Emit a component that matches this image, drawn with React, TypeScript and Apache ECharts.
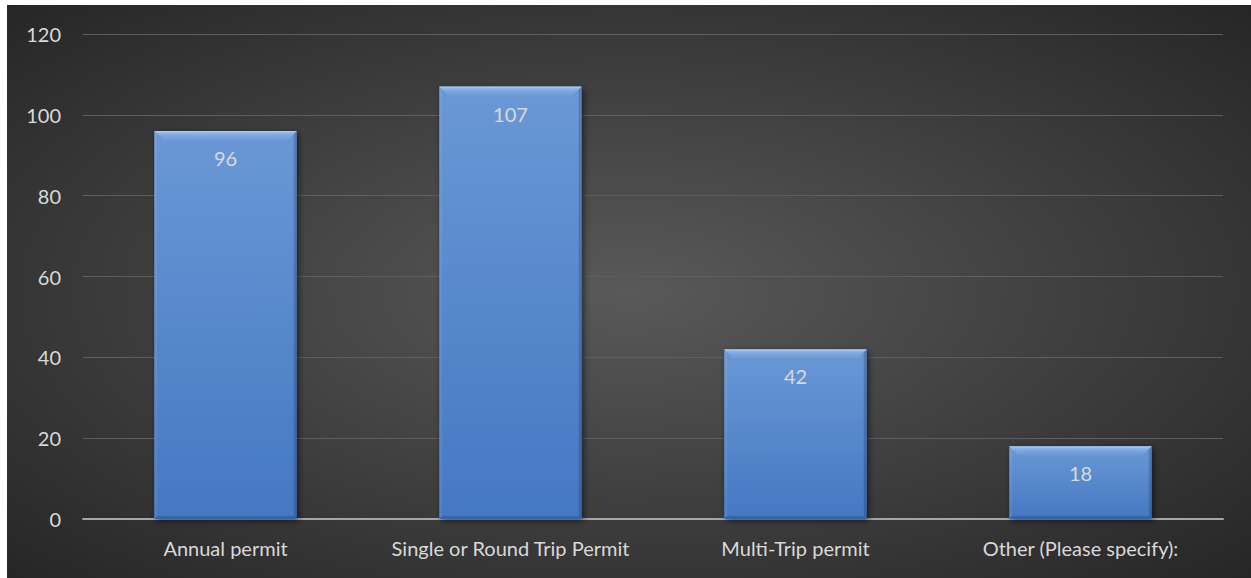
import React, { useEffect, useRef } from "react";
import * as echarts from "echarts";

const categories = ["Annual permit", "Single or Round Trip Permit", "Multi-Trip permit", "Other (Please specify):"];
const values = [96, 107, 42, 18];
const yTicks = [0, 20, 40, 60, 80, 100, 120];

const FONT = "Lato, 'Open Sans', sans-serif";

export default function App() {
  const ref = useRef<HTMLDivElement>(null);
  useEffect(() => {
    if (!ref.current) return;
    const chart = echarts.init(ref.current, undefined, { renderer: "svg" });
    chart.setOption({
      animation: false,
      backgroundColor: {
        type: "radial",
        x: 0.5,
        y: 0.5,
        r: 0.72,
        colorStops: [
          { offset: 0, color: "#595959" },
          { offset: 1, color: "#252525" },
        ],
      },
      grid: { left: 76, right: 28, top: 29, bottom: 59 },
      xAxis: {
        type: "category",
        data: categories,
        axisTick: { show: false },
        axisLine: { lineStyle: { color: "#a6a6a6", width: 2 } },
        axisLabel: { color: "#d9d9d9", fontSize: 20, fontFamily: FONT, margin: 19, interval: 0 },
      },
      yAxis: {
        type: "value",
        min: yTicks[0],
        max: yTicks[yTicks.length - 1],
        interval: 20,
        axisLine: { show: false },
        axisTick: { show: false },
        splitLine: { lineStyle: { color: "#5e5e5e", width: 1 } },
        axisLabel: { color: "#d9d9d9", fontSize: 20, fontFamily: FONT, margin: 22 },
      },
      series: [
        {
          type: "bar",
          data: values,
          barWidth: "50%",
          z: 2,
          itemStyle: {
            color: {
              type: "linear",
              x: 0, y: 0, x2: 0, y2: 1,
              colorStops: [
                { offset: 0, color: "#6a98d6" },
                { offset: 1, color: "#4478c2" },
              ],
            },
            shadowColor: "rgba(0,0,0,0.55)",
            shadowBlur: 6,
            shadowOffsetX: 2,
            shadowOffsetY: 2,
          },
          label: {
            show: true,
            position: "insideTop",
            distance: 17,
            color: "#d9d9d9",
            fontSize: 20,
            fontFamily: FONT,
          },
        },
        {
          type: "custom",
          data: values.map((v, i) => [i, v]),
          encode: { x: 0, y: 1 },
          z: 3,
          silent: true,
          renderItem: (params: any, api: any) => {
            const idx = api.value(0);
            const v = api.value(1);
            const top = api.coord([idx, v]);
            const base = api.coord([idx, 0]);
            const w = api.size([1, 0])[0] * 0.5;
            const x0 = top[0] - w / 2;
            const x1 = top[0] + w / 2;
            const y0 = top[1];
            const y1 = base[1];
            const b = 9;
            const s = 3;
            return {
              type: "group",
              children: [
                {
                  type: "polygon",
                  shape: { points: [[x0, y0], [x0 + s, y0 + s], [x0 + s, y1 - s], [x0, y1]] },
                  style: { fill: "rgba(255,255,255,0.07)" },
                },
                {
                  type: "polygon",
                  shape: { points: [[x1, y0], [x1 - s, y0 + s], [x1 - s, y1 - s], [x1, y1]] },
                  style: { fill: "rgba(0,20,60,0.2)" },
                },
                {
                  type: "polygon",
                  shape: { points: [[x0, y1], [x1, y1], [x1 - s, y1 - s], [x0 + s, y1 - s]] },
                  style: { fill: "rgba(0,20,60,0.2)" },
                },
                {
                  type: "polygon",
                  shape: { points: [[x0, y0], [x1, y0], [x1 - b, y0 + b], [x0 + b, y0 + b]] },
                  style: {
                    fill: {
                      type: "linear", x: 0, y: 0, x2: 0, y2: 1,
                      colorStops: [
                        { offset: 0, color: "rgba(200,225,255,0.75)" },
                        { offset: 0.35, color: "rgba(170,205,250,0.4)" },
                        { offset: 1, color: "rgba(140,180,235,0.15)" },
                      ],
                    },
                  },
                },
              ],
            };
          },
        },
      ],
    });
    return () => chart.dispose();
  }, []);
  return <div ref={ref} style={{ position: "absolute", left: 7, top: 5, width: 1244, height: 573 }} />;
}
